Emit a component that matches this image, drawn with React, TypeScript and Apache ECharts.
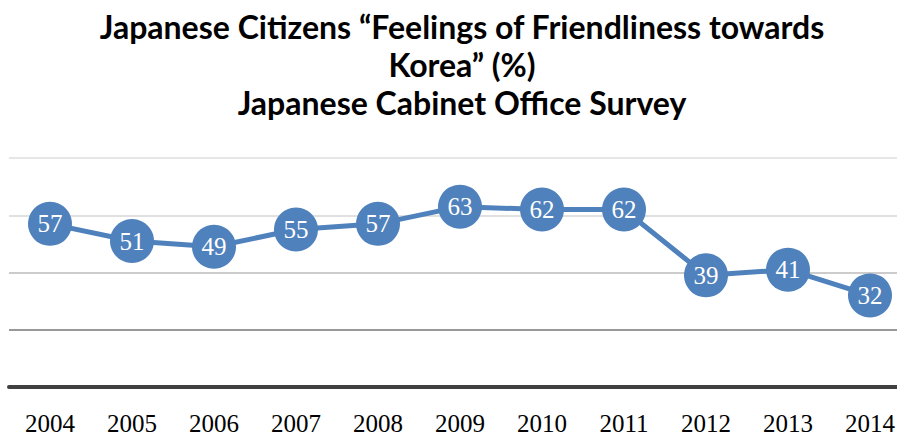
import React, { useEffect, useRef } from "react";
import * as echarts from "echarts";

const titleLines = [
  "Japanese Citizens \u201cFeelings of Friendliness towards",
  "Korea\u201d (%)",
  "Japanese Cabinet Office Survey",
];
const years = ["2004", "2005", "2006", "2007", "2008", "2009", "2010", "2011", "2012", "2013", "2014"];
const friendliness = [57, 51, 49, 55, 57, 63, 62, 62, 39, 41, 32];
const yTicks = { min: 0, max: 80, interval: 20 };

export default function App() {
  const ref = useRef<HTMLDivElement>(null);
  useEffect(() => {
    document.body.style.margin = "0";
    const chart = echarts.init(ref.current!, undefined, { renderer: "svg" });
    chart.setOption({
      animation: false,
      backgroundColor: "#ffffff",
      title: {
        text: titleLines.join("\n"),
        left: 457,
        top: 2,
        textAlign: "center",
        textStyle: {
          fontFamily: "Lato",
          fontWeight: "bold",
          fontSize: 32,
          lineHeight: 38,
          color: "#000000",
        },
      },
      grid: { left: 9, top: 158, width: 902, height: 229, outerBoundsMode: "none", containLabel: false },
      xAxis: {
        type: "category",
        data: years,
        boundaryGap: true,
        axisLine: { show: true, lineStyle: { color: "#404040", width: 4 } },
        axisTick: { show: false },
        axisLabel: {
          fontFamily: "Liberation Serif",
          fontSize: 25,
          lineHeight: 22,
          color: "#000000",
          margin: 25,
        },
        splitLine: { show: false },
      },
      yAxis: {
        type: "value",
        min: yTicks.min,
        max: yTicks.max,
        interval: yTicks.interval,
        axisLine: { show: false },
        axisTick: { show: false },
        axisLabel: { show: false },
        splitLine: {
          show: true,
          lineStyle: {
            color: ["#404040", "#999999", "#cccccc", "#e0e0e0", "#e6e6e6"],
            width: 2,
          },
        },
      },
      series: [
        {
          type: "line",
          data: friendliness,
          symbol: "circle",
          symbolSize: 44,
          itemStyle: { color: "#4f81bd" },
          lineStyle: { color: "#4f81bd", width: 5 },
          label: {
            show: true,
            position: "inside",
            color: "#ffffff",
            fontFamily: "Liberation Serif",
            fontSize: 25,
          },
        },
      ],
    });
    return () => chart.dispose();
  }, []);
  return <div ref={ref} style={{ width: 897, height: 435 }} />;
}
